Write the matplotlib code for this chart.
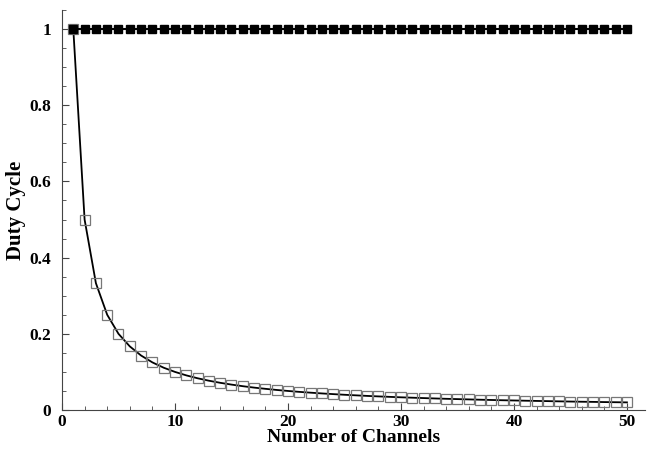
import numpy as np
import matplotlib
matplotlib.use('Agg')
import matplotlib.pyplot as plt
from matplotlib.ticker import MultipleLocator

plt.rcParams['font.family'] = 'Liberation Serif'
plt.rcParams['font.weight'] = 'bold'

# number of channels
channels = list(range(1, 51))
# duty cycle per channel
duty_single = [1.0, 0.5, 0.333, 0.25, 0.2, 0.167, 0.143, 0.125, 0.111, 0.1,
               0.0909, 0.0833, 0.0769, 0.0714, 0.0667, 0.0625, 0.0588, 0.0556, 0.0526, 0.05,
               0.0476, 0.0455, 0.0435, 0.0417, 0.04, 0.0385, 0.037, 0.0357, 0.0345, 0.0333,
               0.0323, 0.0313, 0.0303, 0.0294, 0.0286, 0.0278, 0.027, 0.0263, 0.0256, 0.025,
               0.0244, 0.0238, 0.0233, 0.0227, 0.0222, 0.0217, 0.0213, 0.0208, 0.0204, 0.02]
duty_all = [1.0] * 50

fig = plt.figure(figsize=(6.47, 4.49), dpi=100)
ax = fig.add_axes([62/647, 1 - 410/449, (645-62)/647, (410-10)/449])

ax.plot(channels, duty_single, color='black', lw=1.3, zorder=2)
ax.plot(channels, duty_single, ls='none', marker='s', ms=7, mfc='none',
        mec='#777777', mew=0.9, zorder=3)
ax.plot(channels, duty_all, color='black', lw=1.5, marker='s', ms=6,
        mfc='black', mec='black', zorder=4)

ax.set_xlim(0, 51.6)
ax.set_ylim(0, 1.05)
ax.xaxis.set_major_locator(MultipleLocator(10))
ax.xaxis.set_minor_locator(MultipleLocator(2))
ax.yaxis.set_minor_locator(MultipleLocator(0.05))
ax.set_yticks([0, 0.2, 0.4, 0.6, 0.8, 1.0])
ax.set_yticklabels(['0', '0.2', '0.4', '0.6', '0.8', '1'])

for s in ['top', 'right']:
    ax.spines[s].set_visible(False)
ax.spines['left'].set_color('#444444')
ax.spines['bottom'].set_color('#444444')
ax.tick_params(which='both', direction='in', color='#444444')
ax.tick_params(which='major', length=5, labelsize=12.5)
ax.tick_params(axis='y', which='major', pad=8)
ax.tick_params(axis='x', which='major', pad=3)
ax.tick_params(which='minor', length=3)

ax.set_xlabel('Number of Channels', fontsize=14, fontweight='bold', labelpad=-0.5)
ax.set_ylabel('Duty Cycle', fontsize=15, fontweight='bold', labelpad=2)

fig.savefig('out.png', dpi=100)
